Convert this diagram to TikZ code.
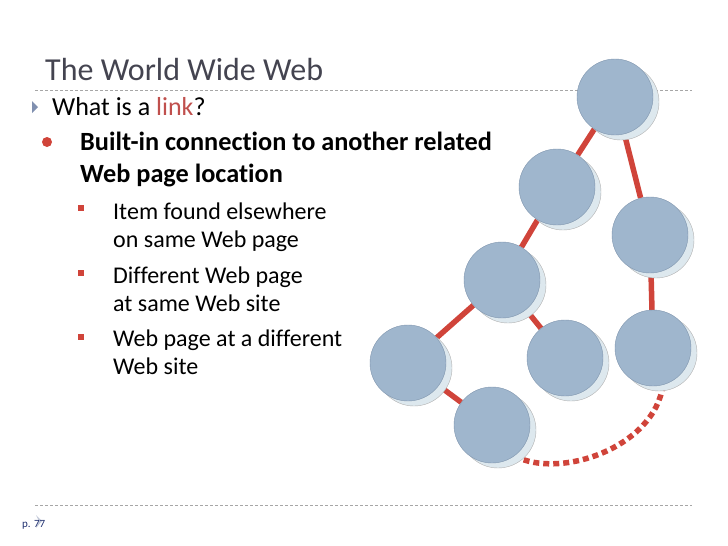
\documentclass[tikz,border=0pt]{standalone}
\usepackage{fontspec}
\setmainfont{Carlito}[Ligatures=NoCommon]
\usepackage{tikz}
\usetikzlibrary{shadows,backgrounds}
\definecolor{linkred}{RGB}{208,68,58}
\definecolor{wordred}{RGB}{192,80,77}
\definecolor{pageblue}{RGB}{159,182,205}
\definecolor{pageline}{RGB}{128,150,174}
\definecolor{shadowblue}{RGB}{221,232,238}
\definecolor{titlegrey}{RGB}{68,68,80}
\definecolor{arrowblue}{RGB}{128,144,176}
\definecolor{numblue}{RGB}{31,47,111}

\begin{document}
\begin{tikzpicture}[x=1pt,y=-1pt,
  page/.style={circle,minimum size=76pt,inner sep=0pt,fill=pageblue,draw=pageline,line width=0.4pt,
    drop shadow={shadow xshift=6pt,shadow yshift=-5pt,opacity=1,fill=shadowblue,draw=gray!60}},
  link/.style={draw=linkred,line width=5.5pt},
  dotlink/.style={draw=linkred,line width=5.5pt,dash pattern=on 6pt off 4pt},
  rule/.style={draw=gray!70,line width=0.6pt,dash pattern=on 3pt off 2pt},
  txt/.style={anchor=base west,inner sep=0pt}]
  \useasboundingbox (0,0) rectangle (728,546);

  % title and rules
  \node[txt,text=titlegrey,font=\fontsize{32}{38}\selectfont] (title) at (45,80) {The World Wide Web};
  \draw[rule] (35,90) -- (692,90);
  \draw[rule] (35,505) -- (692,505);

  % bullets
  \fill[arrowblue] (32,101) -- (38,107) -- (32,113) -- cycle;
  \node[txt,font=\fontsize{26}{30}\selectfont] (q) at (52,115) {What is a \textcolor{wordred}{link}?};
  \fill[linkred] (47,142) circle (5);
  \node[txt,font=\bfseries\fontsize{26.3}{30}\selectfont] (a1) at (80,150) {Built-in connection to another related};
  \node[txt,font=\bfseries\fontsize{26.3}{30}\selectfont] (a2) at (80,182) {Web page location};
  \foreach \y in {208,273,337}
    \fill[linkred] (78,\y-3) rectangle (84,\y+3);
  \node[txt,font=\fontsize{24}{28}\selectfont] (b1) at (113,219) {Item found elsewhere};
  \node[txt,font=\fontsize{24}{28}\selectfont] (b2) at (113,247) {on same Web page};
  \node[txt,font=\fontsize{24}{28}\selectfont] (c1) at (113,283) {Different Web page};
  \node[txt,font=\fontsize{24}{28}\selectfont] (c2) at (113,311) {at same Web site};
  \node[txt,font=\fontsize{24}{28}\selectfont] (d1) at (113,346) {Web page at a different};
  \node[txt,font=\fontsize{24}{28}\selectfont] (d2) at (113,374) {Web site};

  % page number
  \fill[arrowblue!50] (36,515) -- (42,521) -- (36,528) -- (39,521) -- cycle;
  \node[txt,text=numblue,font=\fontsize{11}{13}\selectfont] (num) at (22,527) {p. 77};

  % web of pages
  \node[page] (p1) at (615,97)  {};
  \node[page] (p2) at (557,187) {};
  \node[page] (p3) at (650,235) {};
  \node[page] (p4) at (502,280) {};
  \node[page] (p5) at (408,363) {};
  \node[page] (p6) at (565,358) {};
  \node[page] (p7) at (653,348) {};
  \node[page] (p8) at (492,425) {};

  \begin{scope}[on background layer]
    \path[link] (p1) edge (p2)
                (p1) edge (p3)
                (p2) edge (p4)
                (p3) edge (p7)
                (p4) edge (p5)
                (p4) edge (p6)
                (p5) edge (p8);
    \draw[dotlink] (p8.-54) .. controls (560,480) and (655,447) .. (p7.-75);
  \end{scope}
\end{tikzpicture}
\end{document}
